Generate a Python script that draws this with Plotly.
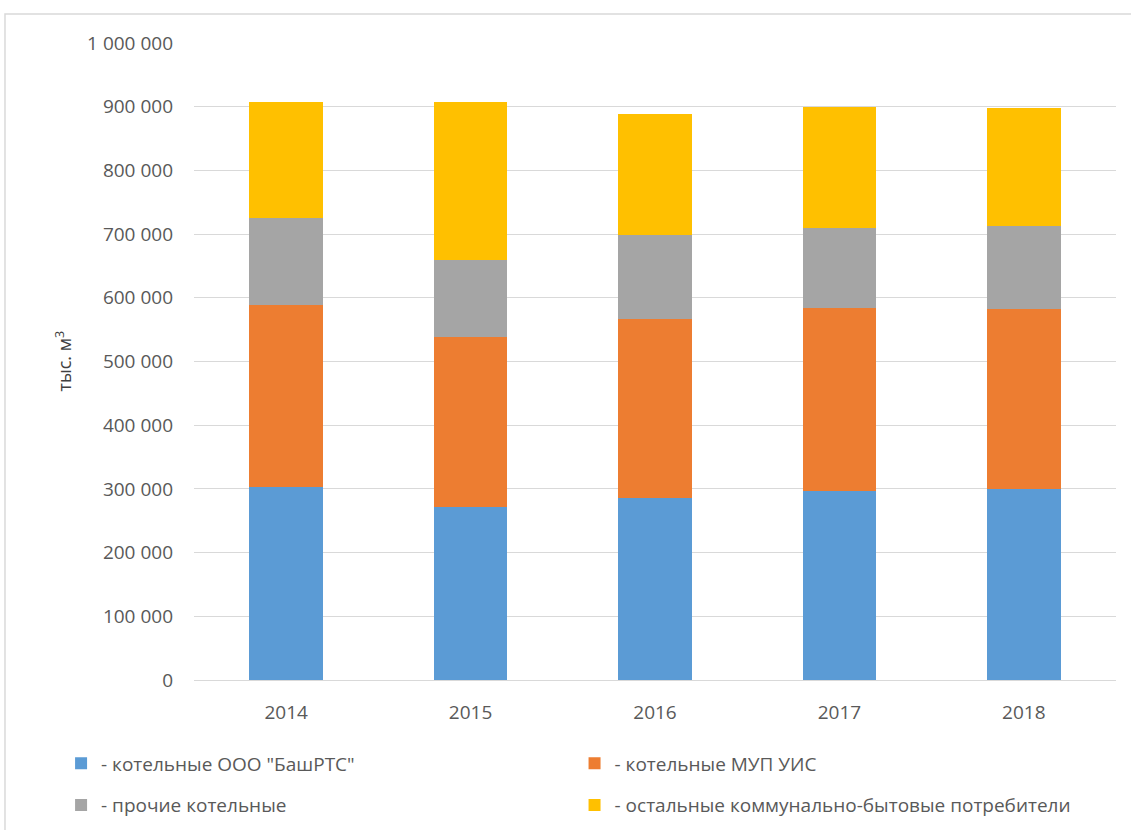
import plotly.graph_objects as go

years = ["2014", "2015", "2016", "2017", "2018"]
bashrts = [303000, 271000, 286000, 297000, 300000]
mup_uis = [286000, 268000, 281000, 287000, 282000]
other_boilers = [136000, 121000, 132000, 125000, 130000]
other_consumers = [183000, 247000, 190000, 191000, 186000]

series_names = [
    "- котельные ООО \"БашРТС\"",
    "- котельные МУП УИС",
    "- прочие котельные",
    "- остальные коммунально-бытовые потребители",
]
colors = ["#5b9bd5", "#ed7d31", "#a5a5a5", "#ffc000"]
legend_slots = ["legend", "legend2", "legend", "legend2"]

tick_vals = [0, 100000, 200000, 300000, 400000, 500000, 600000, 700000, 800000, 900000, 1000000]
tick_text = ["0", "100 000", "200 000", "300 000", "400 000", "500 000", "600 000",
             "700 000", "800 000", "900 000", "1 000 000"]
y_title = "тыс. м<sup>3</sup>"

font_family = "Open Sans, Liberation Sans, Arial, sans-serif"

fig = go.Figure()
for i, (name, vals, col, lg) in enumerate(zip(series_names,
                                              [bashrts, mup_uis, other_boilers, other_consumers],
                                              colors, legend_slots)):
    fig.add_trace(go.Bar(x=years, y=vals, name=name, marker_color=col, marker_line_width=0,
                         legend=lg, legendgroup=f"g{i}"))

legend_common = dict(
    orientation="v", traceorder="grouped",
    xref="container", yref="container",
    y=0.103, xanchor="left", yanchor="top",
    font=dict(family=font_family, size=19, color="#595959"),
    tracegroupgap=14, itemwidth=30, bgcolor="rgba(0,0,0,0)",
)

fig.update_layout(
    barmode="stack",
    bargap=0.6,
    width=1131, height=830,
    margin=dict(l=194, r=15, t=43, b=150, autoexpand=False),
    paper_bgcolor="white", plot_bgcolor="white",
    font=dict(family=font_family, size=19, color="#595959"),
    legend=dict(x=0.054, **legend_common),
    legend2=dict(x=0.508, **legend_common),
    showlegend=True,
    xaxis=dict(showgrid=False, showline=False, ticks="", ticklabelstandoff=19,
               tickfont=dict(size=19)),
    yaxis=dict(
        range=[0, 1000000], tickvals=tick_vals, ticktext=tick_text,
        showgrid=True, gridcolor="#d9d9d9", gridwidth=1,
        zeroline=True, zerolinecolor="#d9d9d9", zerolinewidth=1,
        showline=False, ticks="", ticklabelstandoff=20,
        tickfont=dict(size=19),
    ),
    annotations=[dict(text=y_title, xref="paper", yref="paper", x=-0.142, y=0.5,
                      xanchor="center", yanchor="middle", textangle=-90, showarrow=False,
                      font=dict(family=font_family, size=18, color="#404040"))],
    shapes=[dict(type="rect", xref="paper", yref="paper",
                 x0=-0.205, x1=1.02, y0=-0.3, y1=1.0455,
                 line=dict(color="#d9d9d9", width=1.5), fillcolor="rgba(0,0,0,0)", layer="below")],
)

fig.write_html("out.html", config={"displayModeBar": False},
               post_script="document.body.style.margin='0';document.body.style.overflow='hidden';")
